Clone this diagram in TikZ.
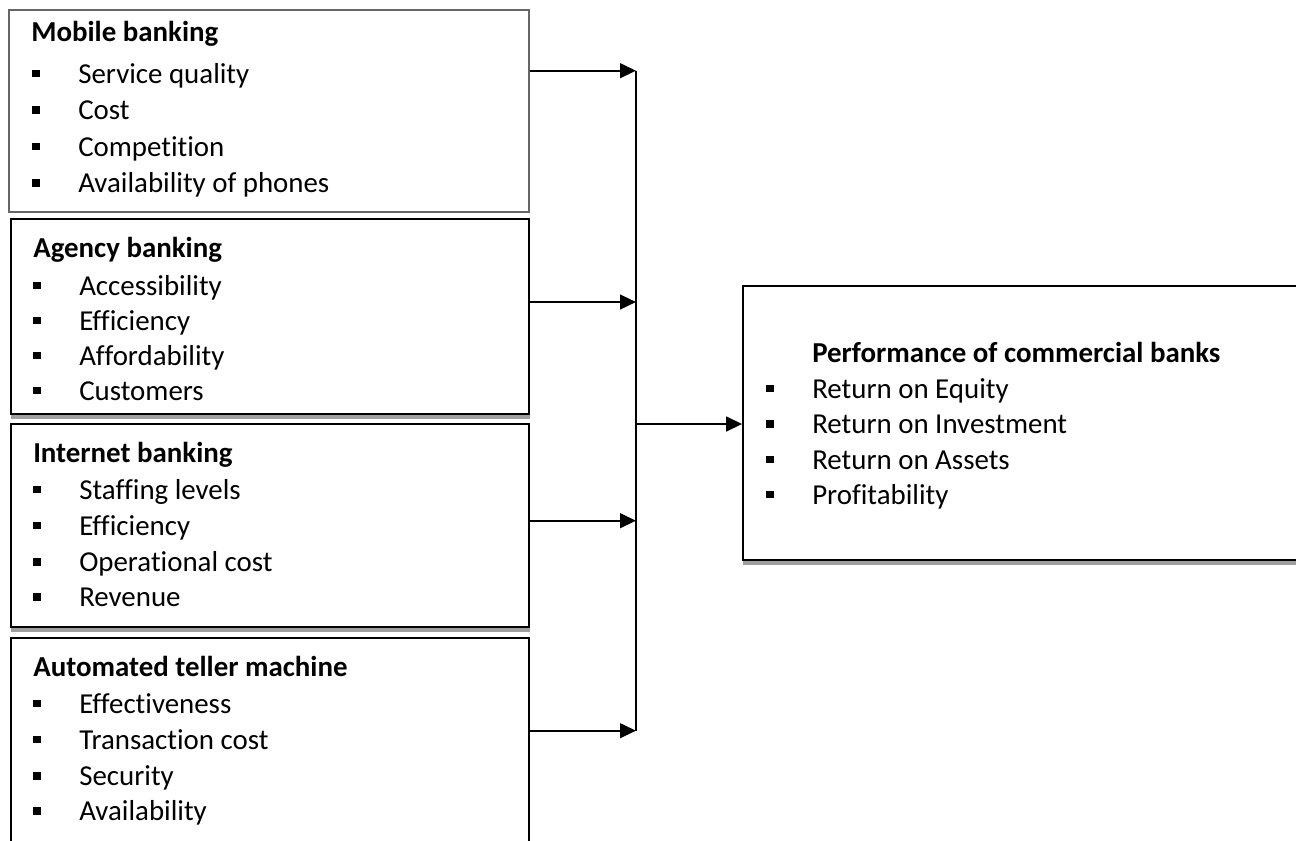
\documentclass[tikz,border=0pt]{standalone}
\usepackage{fontspec}
\setmainfont[Ligatures=NoCommon]{Carlito}
\usetikzlibrary{arrows.meta,fit}

% square bullet followed by the item text
\newcommand{\sqitem}[1]{\rlap{\rule[4.5pt]{5.6pt}{5.6pt}}\hspace{34.5pt}#1}

\tikzset{
  txt/.style={font=\fontsize{21.67pt}{26pt}\selectfont},
  framebox/.style={draw=black, line width=1.3pt, inner sep=0pt},
  thinbox/.style={draw=black!60, line width=0.8pt, inner sep=0pt},
  boxshade/.style={fill=black!38},
  head/.style={txt, anchor=base west, inner sep=0pt, font=\fontsize{21.67pt}{26pt}\selectfont\bfseries},
  entry/.style={txt, anchor=base west, inner sep=0pt},
  link/.style={line width=1.8pt, -{Triangle[length=12pt,width=11pt]}},
  busline/.style={line width=1.1pt},
}

\begin{document}
\begin{tikzpicture}[x=0.75pt, y=-0.75pt]
\useasboundingbox (0,0) rectangle (1296,840);
\clip (0,0) rectangle (1296,840);

% ---- shadows under the framed boxes
\fill[boxshade] (11,414) rectangle (530,418.5);
\fill[boxshade] (11,627) rectangle (530,631.5);
\fill[boxshade] (743,560) rectangle (1300,564.5);

% ---- factor boxes
\node[thinbox,  fit={(9,10)(529,212)}]   (mobile)   {};
\node[framebox, fit={(11,219)(529,414)}] (agency)   {};
\node[framebox, fit={(11,424)(529,627)}] (internet) {};
\node[framebox, fit={(11,638)(529,860)}] (atm)      {};

% ---- outcome box
\node[framebox, fit={(743,286)(1310,560)}] (perf) {};

% ---- Mobile banking
\node[head]  (m0) at (31,41)    {Mobile banking};
\node[entry] (m1) at (32,83.3)  {\sqitem{Service quality}};
\node[entry] (m2) at (32,119.5) {\sqitem{Cost}};
\node[entry] (m3) at (32,156)   {\sqitem{Competition}};
\node[entry] (m4) at (32,192.5) {\sqitem{Availability of phones}};

% ---- Agency banking
\node[head]  (a0) at (33,257.5) {Agency banking};
\node[entry] (a1) at (33,295)   {\sqitem{Accessibility}};
\node[entry] (a2) at (33,330)   {\sqitem{Efficiency}};
\node[entry] (a3) at (33,365)   {\sqitem{Affordability}};
\node[entry] (a4) at (33,400)   {\sqitem{Customers}};

% ---- Internet banking
\node[head]  (i0) at (33,462)   {Internet banking};
\node[entry] (i1) at (33,499)   {\sqitem{Staffing levels}};
\node[entry] (i2) at (33,535)   {\sqitem{Efficiency}};
\node[entry] (i3) at (33,571.5) {\sqitem{Operational cost}};
\node[entry] (i4) at (33,606.5) {\sqitem{Revenue}};

% ---- Automated teller machine
\node[head]  (t0) at (33,676)   {Automated teller machine};
\node[entry] (t1) at (33,713)   {\sqitem{Effectiveness}};
\node[entry] (t2) at (33,749)   {\sqitem{Transaction cost}};
\node[entry] (t3) at (33,785.5) {\sqitem{Security}};
\node[entry] (t4) at (33,820.5) {\sqitem{Availability}};

% ---- Performance of commercial banks
\node[head]  (p0) at (812,362)   {Performance of commercial banks};
\node[entry] (p1) at (766,398)   {\sqitem{Return on Equity}};
\node[entry] (p2) at (766,433.5) {\sqitem{Return on Investment}};
\node[entry] (p3) at (766,469)   {\sqitem{Return on Assets}};
\node[entry] (p4) at (766,504)   {\sqitem{Profitability}};

% ---- junction points on the collecting line
\coordinate (j1) at (636,70.7);
\coordinate (j2) at (636,302);
\coordinate (j3) at (636,520.7);
\coordinate (j4) at (636,730.7);
\coordinate (jm) at (636,424);

% ---- connectors
\draw[busline] (j1) -- (j4);
\draw[link] (mobile.east   |- j1) -- (j1);
\draw[link] (agency.east   |- j2) -- (j2);
\draw[link] (internet.east |- j3) -- (j3);
\draw[link] (atm.east      |- j4) -- (j4);
\draw[link] (jm) -- (perf.west |- jm);
\end{tikzpicture}
\end{document}
